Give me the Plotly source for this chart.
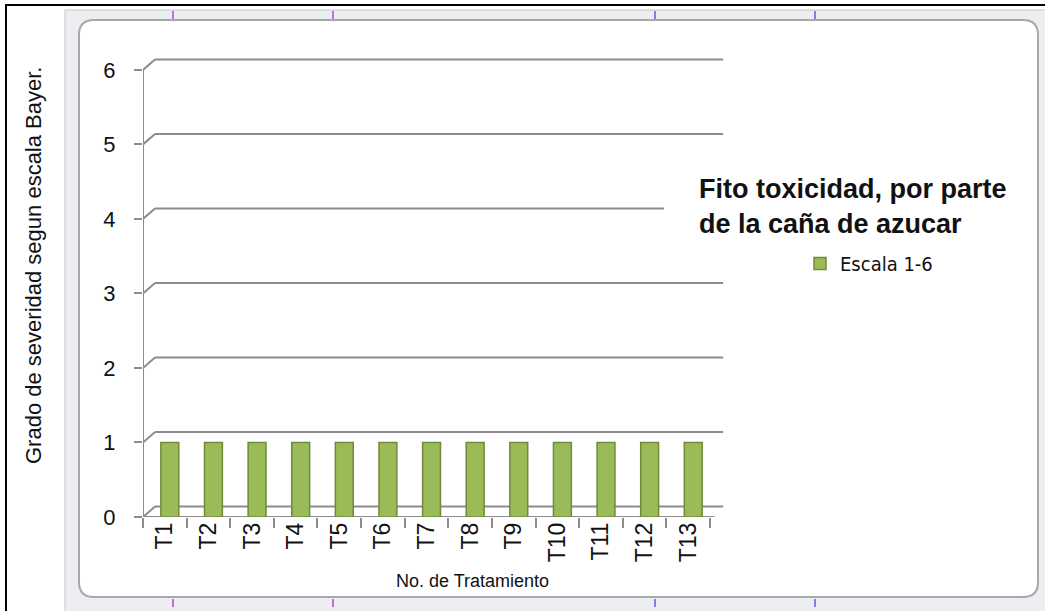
import plotly.graph_objects as go

# ---- data ----
categories = ["T1", "T2", "T3", "T4", "T5", "T6", "T7", "T8", "T9", "T10", "T11", "T12", "T13"]
values = [1, 1, 1, 1, 1, 1, 1, 1, 1, 1, 1, 1, 1]
y_ticks = [0, 1, 2, 3, 4, 5, 6]
series_name = "Escala 1-6"
title_text = "Fito toxicidad, por parte<br>de la caña de azucar"
x_title = "No. de Tratamiento"
y_title = "Grado de severidad segun escala Bayer."

# ---- geometry (pixels) ----
W, H = 1045, 611
L, R, T, B = 143, 724, 55, 517  # plot area in pixels
ML, MR, MT, MB = L, W - R, T, H - B
X_RANGE = [-0.5, 12.82]
Y_RANGE = [0, 6.2]
upx = (R - L) / (X_RANGE[1] - X_RANGE[0])
DEPTH_Y = 0.14
DEPTH_X = 12 / upx


def px(x):
    return (x - L) / (R - L)


def py(y):
    return (B - y) / (B - T)


GRID = "#8C8C8C"
shapes = []

# outer frame / chart area
shapes.append(dict(type="rect", xref="paper", yref="paper", x0=px(65), x1=px(1046), y0=py(10), y1=py(612),
                   fillcolor="#ECEEF2", line=dict(color="#C4C6CA", width=1), layer="below"))
r = 15
x0, x1, y0, y1 = 79, 1038, 20, 597
path = (f"M {px(x0+r)},{py(y0)} L {px(x1-r)},{py(y0)} Q {px(x1)},{py(y0)} {px(x1)},{py(y0+r)} "
        f"L {px(x1)},{py(y1-r)} Q {px(x1)},{py(y1)} {px(x1-r)},{py(y1)} "
        f"L {px(x0+r)},{py(y1)} Q {px(x0)},{py(y1)} {px(x0)},{py(y1-r)} "
        f"L {px(x0)},{py(y0+r)} Q {px(x0)},{py(y0)} {px(x0+r)},{py(y0)} Z")
shapes.append(dict(type="path", xref="paper", yref="paper", path=path, fillcolor="white",
                   line=dict(color="#A8A8A8", width=2), layer="below"))
shapes.append(dict(type="line", xref="paper", yref="paper", x0=px(6), x1=px(6), y0=py(4), y1=py(612),
                   line=dict(color="black", width=2), layer="below"))
shapes.append(dict(type="line", xref="paper", yref="paper", x0=px(5), x1=px(1046), y0=py(5), y1=py(5),
                   line=dict(color="black", width=2), layer="below"))
for mx, col in [(173, "#B046D8"), (333, "#B046D8"), (655, "#5A5AE6"), (815, "#5A5AE6")]:
    for (a, b) in [(11, 19), (599, 607)]:
        shapes.append(dict(type="line", xref="paper", yref="paper", x0=px(mx), x1=px(mx), y0=py(a), y1=py(b),
                           line=dict(color=col, width=1.5), layer="below"))

# 3D-like gridlines on back wall with diagonal connectors
for v in y_ticks:
    shapes.append(dict(type="line", xref="x", yref="y", x0=X_RANGE[0] + DEPTH_X, x1=12.80,
                       y0=v + DEPTH_Y, y1=v + DEPTH_Y, line=dict(color=GRID, width=2), layer="below"))
    shapes.append(dict(type="line", xref="x", yref="y", x0=X_RANGE[0], x1=X_RANGE[0] + DEPTH_X,
                       y0=v, y1=v + DEPTH_Y, line=dict(color=GRID, width=2), layer="below"))
# front axes
shapes.append(dict(type="line", xref="x", yref="y", x0=X_RANGE[0], x1=X_RANGE[0], y0=0, y1=max(y_ticks),
                   line=dict(color=GRID, width=2), layer="below"))
shapes.append(dict(type="line", xref="x", yref="y", x0=X_RANGE[0], x1=12.6, y0=0, y1=0,
                   line=dict(color=GRID, width=2), layer="below"))
# title box (white fill hiding gridline behind it)
shapes.append(dict(type="rect", xref="paper", yref="paper", x0=px(664), x1=px(740), y0=py(196), y1=py(222),
                   fillcolor="white", line=dict(width=0), layer="above"))

fig = go.Figure()
fig.add_trace(go.Bar(
    x=categories, y=values, name=series_name,
    width=0.41, offset=-0.09,
    marker=dict(color="#9BBB59", line=dict(color="#6F8A3A", width=1.5)),
    showlegend=True,
))

FONT = "Liberation Sans, Arial, sans-serif"
fig.update_layout(
    width=W, height=H,
    margin=dict(l=ML, r=MR, t=MT, b=MB, pad=0),
    paper_bgcolor="white", plot_bgcolor="rgba(0,0,0,0)",
    font=dict(family=FONT, color="#111111"),
    shapes=shapes,
    showlegend=True,
    legend=dict(x=px(800), y=py(244), xanchor="left", yanchor="top", bgcolor="rgba(0,0,0,0)",
                font=dict(size=20, family="DejaVu Sans Condensed, DejaVu Sans, sans-serif", color="#111111")),
    annotations=[
        dict(text=title_text, xref="paper", yref="paper", x=px(697), y=py(207), xanchor="left",
             yanchor="middle", align="left", showarrow=False,
             font=dict(size=27, family=FONT, color="#111111", weight="bold")),
        dict(text=x_title, xref="paper", yref="paper", x=px(472), y=py(581), xanchor="center",
             yanchor="middle", showarrow=False, font=dict(size=18, family=FONT, color="#111111")),
        dict(text=y_title, xref="paper", yref="paper", x=px(33), y=py(266), xanchor="center",
             yanchor="middle", textangle=-90, showarrow=False, font=dict(size=22, family=FONT, color="#111111")),
    ],
    bargap=0.59,
)
fig.update_xaxes(type="category", range=X_RANGE, showgrid=False, zeroline=False, showline=False,
                 ticks="outside", tickson="boundaries", ticklen=10, tickwidth=2, tickcolor=GRID,
                 tickangle=-90, tickfont=dict(size=23, family=FONT, color="#111111"), fixedrange=True)
fig.update_yaxes(range=Y_RANGE, tickvals=y_ticks, showgrid=False, zeroline=False, showline=False,
                 ticks="outside", ticklen=8, tickwidth=2, tickcolor=GRID, ticklabelstandoff=14,
                 tickfont=dict(size=22, family=FONT, color="#111111"), fixedrange=True)

fig.write_html("out.html", config={"displayModeBar": False},
               post_script="document.body.style.margin='0';document.body.style.overflow='hidden';")
